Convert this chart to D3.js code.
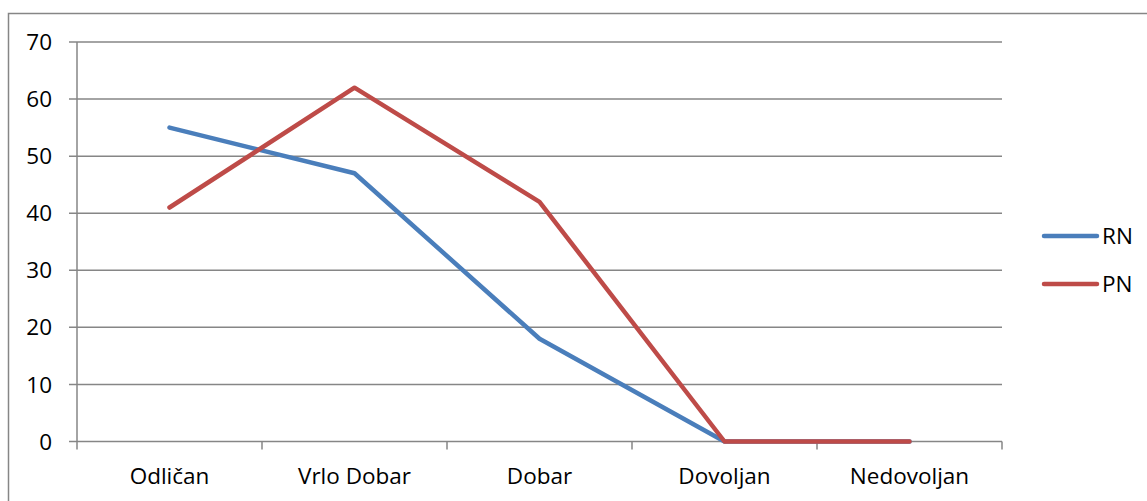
<!DOCTYPE html>
<html><head><meta charset="utf-8">
<script src="https://cdn.jsdelivr.net/npm/d3@7"></script>
<style>body{margin:0;background:#fff}svg{display:block}text{font-family:"Open Sans",sans-serif;fill:#000}</style>
</head><body>
<svg id="c" width="1147" height="501"></svg>
<script>
const categories = ["Odličan","Vrlo Dobar","Dobar","Dovoljan","Nedovoljan"];
const rnValues = [55,47,18,0,0];
const pnValues = [41,62,42,0,0];
const yTicks = [0,10,20,30,40,50,60,70];
const seriesNames = ["RN","PN"];
const colors = ["#4a7ebb","#be4b48"];
const fs = 22.5;

const svg = d3.select("#c");
svg.append("rect").attr("x",8.5).attr("y",13.5).attr("width",1150).attr("height",500)
  .attr("fill","none").attr("stroke","#868686").attr("stroke-width",1.5);

const x0=77, x1=1002, yTop=42, yBot=441.5;
const x = d3.scaleBand().domain(categories).range([x0,x1]);
const y = d3.scaleLinear().domain([0,70]).range([yBot,yTop]);

svg.append("g").selectAll("line").data(yTicks).join("line")
  .attr("x1",69).attr("x2",x1).attr("y1",d=>y(d)).attr("y2",d=>y(d))
  .attr("stroke","#868686").attr("stroke-width",1.5);
svg.append("line").attr("x1",x0).attr("x2",x0).attr("y1",yTop).attr("y2",yBot)
  .attr("stroke","#868686").attr("stroke-width",1.5);
svg.append("g").selectAll("text").data(yTicks).join("text")
  .attr("x",52).attr("y",d=>y(d)).attr("dy","0.36em").attr("text-anchor","end")
  .attr("font-size",fs).text(d=>d);
const bounds = categories.map(c=>x(c)).concat([x1]);
svg.append("g").selectAll("line").data(bounds).join("line")
  .attr("x1",d=>d).attr("x2",d=>d).attr("y1",yBot).attr("y2",yBot+8)
  .attr("stroke","#868686").attr("stroke-width",1.5);
svg.append("g").selectAll("text").data(categories).join("text")
  .attr("x",d=>x(d)+x.bandwidth()/2).attr("y",476).attr("dy","0.36em").attr("text-anchor","middle")
  .attr("font-size",fs).text(d=>d);

const line = d3.line().x((d,i)=>x(categories[i])+x.bandwidth()/2).y(d=>y(d));
[rnValues,pnValues].forEach((vals,k)=>{
  svg.append("path").datum(vals).attr("d",line).attr("fill","none")
    .attr("stroke",colors[k]).attr("stroke-width",4.5).attr("stroke-linejoin","round").attr("stroke-linecap","round");
});

seriesNames.forEach((n,k)=>{
  const ly = 236 + k*48;
  svg.append("line").attr("x1",1044).attr("x2",1097).attr("y1",ly).attr("y2",ly)
    .attr("stroke",colors[k]).attr("stroke-width",4.5).attr("stroke-linecap","round");
  svg.append("text").attr("x",1102).attr("y",ly).attr("dy","0.36em").attr("font-size",fs).text(n);
});
</script>
</body></html>
